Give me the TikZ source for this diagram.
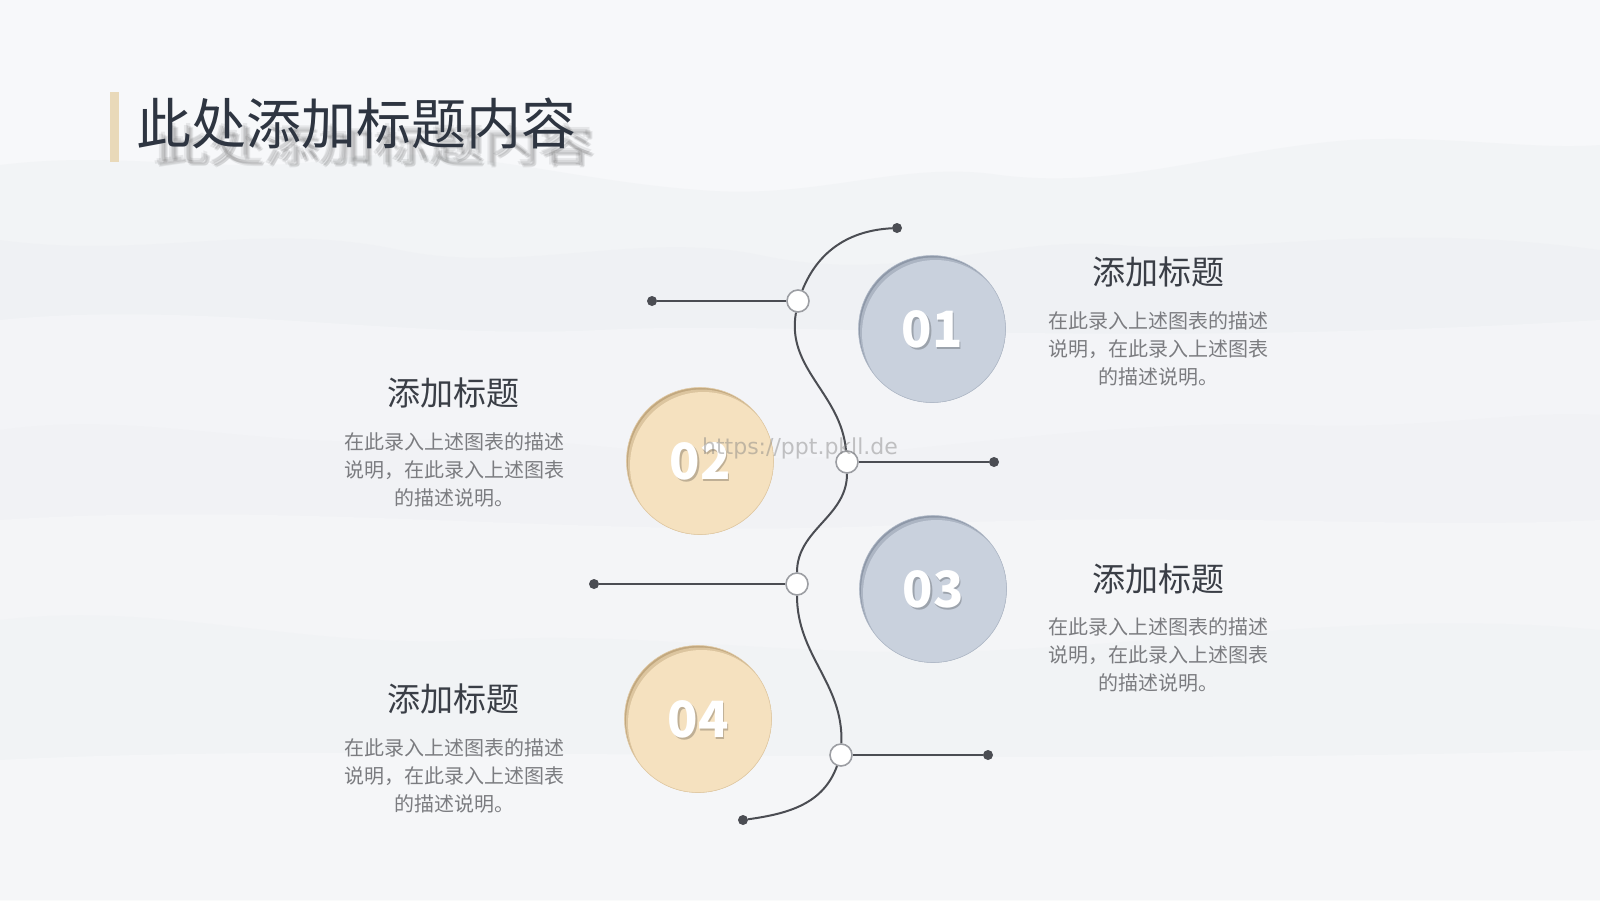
\documentclass[tikz,border=0pt]{standalone}
\usepackage{fontspec}
\newfontfamily\cjk{Noto Sans CJK SC}
\newfontfamily\wmfont{DejaVu Sans}
\definecolor{bgc}{HTML}{F7F8FA}
\definecolor{mtnA}{HTML}{EEF0F3}
\definecolor{mtnB}{HTML}{E9EBEF}
\definecolor{linec}{HTML}{4B4D53}
\definecolor{ringc}{HTML}{9C9EA3}
\definecolor{titlec}{HTML}{2E3541}
\definecolor{headc}{HTML}{3A3E46}
\definecolor{descc}{HTML}{7B7C80}
\definecolor{barc}{HTML}{E9D9B9}
\definecolor{bluem}{HTML}{C9D1DD}
\definecolor{bluer}{HTML}{8E98A8}
\definecolor{beigem}{HTML}{F5E1BF}
\definecolor{beiger}{HTML}{C2A87F}
\tikzset{
  enddot/.style={circle,fill=linec,inner sep=0pt,minimum size=10pt},
  junction/.style={circle,fill=white,draw=ringc,line width=1.6pt,inner sep=0pt,minimum size=22pt},
  wire/.style={draw=linec,line width=2pt},
  numdisc/.style={circle,inner sep=0pt,minimum size=147pt},
  numtxt/.style={font=\cjk\bfseries\fontsize{50}{50}\selectfont,text=white,inner sep=0pt},
  numshadow/.style={font=\cjk\bfseries\fontsize{50}{50}\selectfont,text=black,opacity=0.22,inner sep=0pt},
  headtxt/.style={font=\cjk\fontsize{33}{40}\selectfont,text=headc,inner sep=0pt},
  desctxt/.style={font=\cjk\fontsize{20}{28}\selectfont,text=descc,align=center,inner sep=0pt},
}
\newcommand\numcirc[6]{%
  \node[numdisc,fill=#4] (#1) at (#2,#3) {};
  \begin{scope}
    \clip (#1.center) circle (73.5pt);
    \fill[#4!50!#5] ($(#1.center)+(1.5,2)$) circle (73.5pt);
    \fill[#5] ($(#1.center)+(3.5,4.5)$) circle (73.5pt);
  \end{scope}
  \draw[#5!60!#4,line width=0.6pt] (#1.center) circle (73.5pt);
  \node[numshadow] at ($(#1.center)+(1.8,2.4)$) {#6};
  \node[numtxt] (#1t) at (#1.center) {#6};
}
\usetikzlibrary{calc}
\begin{document}
\begin{tikzpicture}[x=1pt,y=-1pt]
\useasboundingbox (0,0) rectangle (1600,900);
\fill[bgc] (0,0) rectangle (1600,900);
% faint mountains
\fill[mtnA,opacity=0.45] (0,165) .. controls (120,150) and (220,175) .. (330,160)
  .. controls (450,140) and (560,180) .. (700,190) .. controls (820,200) and (900,160) .. (1000,175)
  .. controls (1120,190) and (1220,150) .. (1350,140) .. controls (1450,135) and (1530,150) .. (1600,145)
  -- (1600,900) -- (0,900) -- cycle;
\fill[mtnB,opacity=0.25] (0,240) .. controls (150,260) and (260,220) .. (400,250)
  .. controls (520,275) and (640,230) .. (760,255) .. controls (900,285) and (1000,235) .. (1120,245)
  .. controls (1250,255) and (1380,220) .. (1600,250) -- (1600,900) -- (0,900) -- cycle;
\fill[bgc,opacity=0.5] (0,320) .. controls (200,300) and (400,340) .. (600,330)
  .. controls (800,320) and (1100,350) .. (1600,320) -- (1600,900) -- (0,900) -- cycle;
\fill[mtnA,opacity=0.4] (0,430) .. controls (140,410) and (260,450) .. (420,440)
  .. controls (560,430) and (700,470) .. (850,455) .. controls (1000,440) and (1150,420) .. (1300,425)
  .. controls (1420,430) and (1520,410) .. (1600,415) -- (1600,900) -- (0,900) -- cycle;
\fill[bgc,opacity=0.5] (0,520) .. controls (300,500) and (600,540) .. (900,525)
  .. controls (1200,510) and (1400,530) .. (1600,520) -- (1600,900) -- (0,900) -- cycle;
\fill[mtnA,opacity=0.35] (0,620) .. controls (160,600) and (300,650) .. (480,640)
  .. controls (650,630) and (800,660) .. (1000,650) .. controls (1200,640) and (1400,610) .. (1600,630)
  -- (1600,900) -- (0,900) -- cycle;
\fill[bgc,opacity=0.7] (0,760) .. controls (400,740) and (900,770) .. (1600,750) -- (1600,900) -- (0,900) -- cycle;

% title
\fill[barc] (110,92) rectangle (119,162);
\foreach \dx/\dy in {0/0,2.5/1,-2.5/-1,1/2.5,-1/-2.5}{
  \node[font=\cjk\fontsize{55}{60}\selectfont,text=black,opacity=0.07,inner sep=0pt,anchor=west,yscale=0.78]
    at (155+\dx,146+\dy) {此处添加标题内容};
}
\node[font=\cjk\fontsize{55}{60}\selectfont,text=titlec,inner sep=0pt,anchor=west] (title) at (136,123) {此处添加标题内容};

% end dots and junctions
\node[enddot] (t) at (897,228) {};
\node[enddot] (b) at (743,820) {};
\node[enddot] (l1) at (652,301) {};
\node[enddot] (r2) at (994,462) {};
\node[enddot] (l3) at (594,584) {};
\node[enddot] (r4) at (988,755) {};
\node[junction] (w1) at (798,301) {};
\node[junction] (w2) at (847,462) {};
\node[junction] (w3) at (797,584) {};
\node[junction] (w4) at (841,755) {};

% wires
\draw[wire] (t) to[out=183,in=68] (w1);
\draw[wire] (w1) to[out=-100,in=95] (w2);
\draw[wire] (w2) to[out=-90,in=90] (w3);
\draw[wire] (w3) to[out=-90,in=88] (w4);
\draw[wire] (w4) to[out=-110,in=8] (b);
\draw[wire] (w1) -- (l1);
\draw[wire] (w2) -- (r2);
\draw[wire] (w3) -- (l3);
\draw[wire] (w4) -- (r4);

% numbered circles
\numcirc{c1}{932}{329}{bluer}{bluem}{01}
\numcirc{c2}{700}{461}{beiger}{beigem}{02}
\numcirc{c3}{933}{589}{bluer}{bluem}{03}
\numcirc{c4}{698}{719}{beiger}{beigem}{04}

% texts
\node[headtxt] (h1) at (1158,272) {添加标题};
\node[desctxt] (d1) at (1158,349) {在此录入上述图表的描述\\说明，在此录入上述图表\\的描述说明。};
\node[headtxt] (h2) at (453,393) {添加标题};
\node[desctxt] (d2) at (454,470) {在此录入上述图表的描述\\说明，在此录入上述图表\\的描述说明。};
\node[headtxt] (h3) at (1158,579) {添加标题};
\node[desctxt] (d3) at (1158,655) {在此录入上述图表的描述\\说明，在此录入上述图表\\的描述说明。};
\node[headtxt] (h4) at (453,699) {添加标题};
\node[desctxt] (d4) at (454,776) {在此录入上述图表的描述\\说明，在此录入上述图表\\的描述说明。};

% watermark
\node[font=\wmfont\fontsize{22}{22}\selectfont,text=gray,opacity=0.45,inner sep=0pt] (wm) at (800,448) {https://ppt.pkll.de};
\end{tikzpicture}
\end{document}
